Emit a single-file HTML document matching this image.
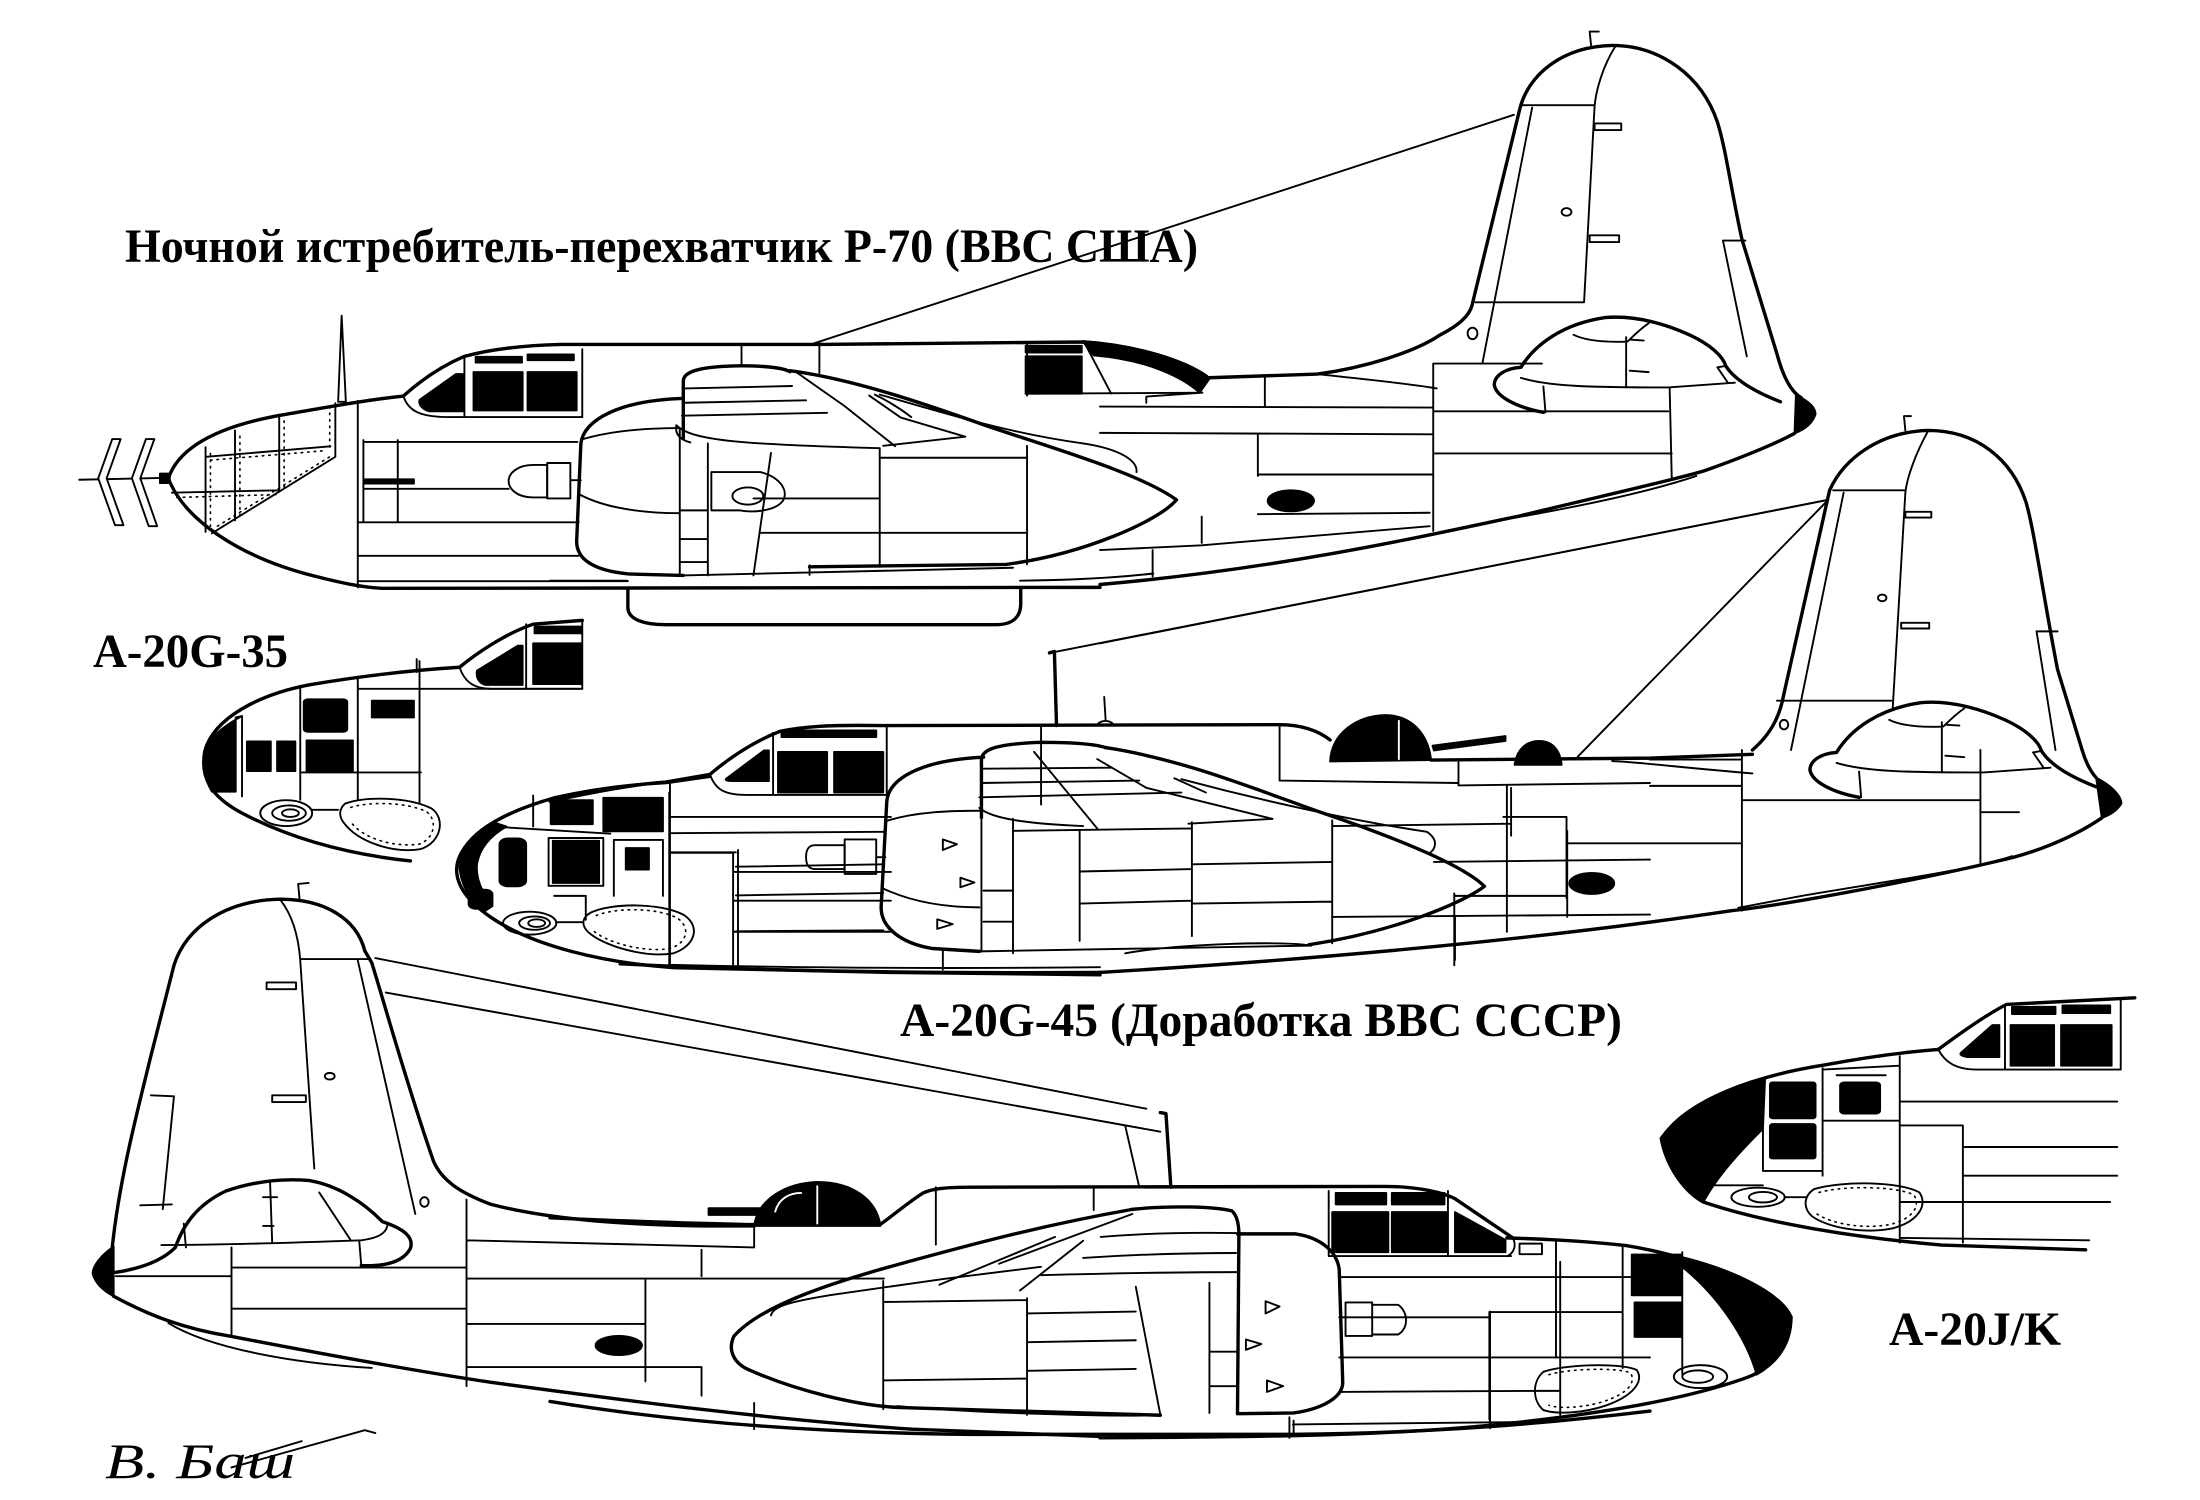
<!DOCTYPE html>
<html><head><meta charset="utf-8">
<style>
html,body{margin:0;padding:0;background:#fff;}
#wrap{position:relative;width:2200px;height:1500px;overflow:hidden;background:#fff;}
svg{position:absolute;left:0;top:0;}
#d path,#d line,#d rect,#d ellipse,#d polygon,#d polyline{vector-effect:non-scaling-stroke;}
#d .o{stroke-width:3.4;}
#d .f{fill:#000;}
#d .w{fill:#fff;}
#d .d{stroke-dasharray:1.5 5;stroke-width:1.6;}
</style></head>
<body><div id="wrap">
<svg id="d" width="2200" height="1500" viewBox="0 0 3136 3136" preserveAspectRatio="none">
<g fill="none" stroke="#000" stroke-width="1.9" stroke-linejoin="round" stroke-linecap="round">

<!-- ===== Q1 region : P-70 front + A-20G-35 ===== -->
<g>
<line x1="113" y1="1003" x2="240" y2="999"/>
<polygon class="w" points="160,918 172,918 152,1000 176,1098 164,1098 140,1000"/>
<polygon class="w" points="208,918 220,918 200,1000 224,1100 212,1100 188,1000"/>
<rect class="f" x="228" y="990" width="14" height="20"/>
<path class="o" d="M240 1000 C255 935 310 892 400 868 C450 856 510 838 575 828"/>
<path class="o" d="M240 1000 C262 1085 340 1165 450 1205 C485 1218 515 1228 545 1230 L1568 1228"/>
<path d="M510 1215 L895 1215"/>
<line x1="510" y1="838" x2="510" y2="1228"/>
<path d="M478 843 L478 955 L302 1115"/>
<path d="M293 935 L293 1112 M335 900 L335 1088 M398 872 L398 1028 M245 1030 L398 1025 M294 955 L471 933"/>
<path class="d" d="M300 948 L300 1100 M342 912 L342 1080 M405 880 L405 1020 M470 850 L470 940 M300 962 L465 942 M252 1040 L395 1034 M310 1100 L470 955"/>
<polygon class="w" points="482,840 487,660 493,840"/>
<path class="o" d="M575 828 C600 795 630 765 662 745 C700 730 745 722 800 720 L1170 720"/>
<path d="M575 828 C582 860 600 872 640 872 L830 872"/>
<path class="f" d="M598 836 L650 782 L660 782 L660 860 L612 860 C602 856 596 846 598 836Z"/>
<rect class="f" x="675" y="778" width="70" height="80"/>
<rect class="f" x="752" y="778" width="70" height="80"/>
<rect class="f" x="678" y="746" width="66" height="12"/>
<rect class="f" x="752" y="741" width="66" height="12"/>
<path d="M662 745 L662 872 M830 730 L830 872 M1057 720 L1057 765 M1168 718 L1168 780"/>
<path d="M518 920 L518 1090 M567 920 L567 1090 M518 924 L823 924 M518 1022 L725 1022 M510 1092 L825 1092 M510 1162 L825 1162"/>
<rect class="f" x="520" y="1002" width="70" height="9"/>
<path d="M780 972 L760 972 C737 972 725 990 725 1006 C725 1022 737 1040 760 1040 L780 1040 Z"/>
<rect x="780" y="968" width="33" height="74"/>
<line x1="813" y1="1004" x2="828" y2="1004"/>
<path class="o" d="M895 1230 L895 1270 C895 1295 918 1306 950 1306 L1420 1306 C1445 1306 1455 1288 1455 1262 L1455 1230"/>
<line x1="1160" y1="718" x2="2158" y2="240"/>

<!-- A-20G-35 -->
<path class="o" d="M655 1395 C680 1365 720 1325 760 1305 L830 1297"/>
<path class="o" d="M655 1395 C600 1400 520 1412 440 1432 C370 1452 305 1500 292 1570 C285 1625 300 1665 345 1700 C410 1750 490 1785 585 1800"/>
<path class="f" d="M345 1497 C315 1520 296 1545 292 1575 C288 1610 294 1635 302 1655 L336 1655 L336 1500 Z"/>
<path d="M345 1497 L345 1665"/>
<path class="f" d="M680 1402 L738 1350 L745 1350 L745 1432 L692 1432 C682 1428 678 1415 680 1402Z"/>
<path d="M655 1395 C662 1425 675 1440 700 1440 L830 1440 M830 1297 L830 1440"/>
<rect class="f" x="760" y="1345" width="68" height="85"/>
<rect class="f" x="762" y="1310" width="66" height="14"/>
<path d="M750 1305 L750 1440"/>
<rect class="f" x="433" y="1462" width="62" height="68" rx="6"/>
<rect class="f" x="530" y="1465" width="60" height="35"/>
<rect class="f" x="352" y="1550" width="34" height="62"/>
<rect class="f" x="395" y="1550" width="26" height="62"/>
<rect class="f" x="437" y="1548" width="66" height="64"/>
<path d="M510 1420 L510 1672 M598 1382 L598 1680 M430 1615 L600 1615 M428 1440 L428 1672 M510 1440 L598 1440 M598 1440 L830 1440"/>
<line x1="594" y1="1378" x2="594" y2="1405"/>
<ellipse cx="408" cy="1700" rx="37" ry="27"/>
<ellipse cx="412" cy="1700" rx="24" ry="16"/>
<ellipse cx="414" cy="1700" rx="12" ry="8"/>
<path d="M492 1680 C520 1665 580 1665 615 1690 C635 1710 630 1760 600 1775 C560 1785 510 1760 490 1720 C482 1705 484 1690 492 1680 Z"/>
<path class="d" d="M500 1688 C525 1676 578 1676 608 1697 C624 1714 620 1754 597 1765 C560 1772 516 1752 500 1718"/>
<line x1="445" y1="1693" x2="482" y2="1693"/>
</g>

<!-- ===== Q2 region : P-70 fin, A-20G-45 fin ===== -->
<g transform="translate(1568,0)">
<path class="o" d="M150 790 L310 782 C380 768 450 735 485 700 C512 680 526 660 530 640 L598 230 C610 155 660 97 730 95 C800 95 858 160 880 255 C892 310 900 400 915 500 L965 740 C975 795 988 822 1000 832"/>
<path class="f" d="M992 826 C1010 838 1020 852 1020 866 C1016 884 1005 898 990 906 Z"/>
<path class="o" d="M990 906 C960 930 905 962 860 985 C800 1010 700 1042 600 1078 C450 1125 250 1190 0 1222"/>
<path d="M850 995 C780 1030 680 1060 570 1088"/>
<path d="M735 96 C716 140 707 190 705 222 L690 632 M600 220 L705 220 M616 225 L545 760 M535 632 L690 632"/>
<path d="M700 95 L698 66 L711 66"/>
<rect x="705" y="258" width="38" height="14"/>
<rect x="698" y="492" width="42" height="14"/>
<ellipse cx="665" cy="443" rx="7" ry="8"/>
<ellipse cx="531" cy="697" rx="7" ry="12"/>
<path d="M888 503 L920 503 M888 503 L922 745"/>
<path d="M310 782 C370 792 430 800 480 812"/>
<path class="o" d="M632 862 C595 852 565 830 562 805 C562 785 578 770 600 768 C620 720 660 677 720 664 C765 658 810 680 840 700 C870 720 888 745 892 765 C905 795 935 820 970 840"/>
<path d="M600 790 C640 808 700 810 810 810 L905 800 M632 808 L635 862 M750 705 L750 810 M675 700 C692 712 720 716 752 714 C762 700 770 688 782 676 M812 810 L815 1000 M880 768 L895 800 M880 768 L892 765"/>
<path d="M755 710 L775 712 M755 775 L782 778"/>
<path d="M475 760 L630 760 M475 860 L810 860 M475 948 L815 948 M475 760 L475 1110 M235 790 L235 850 M0 850 L475 852 M0 905 L475 908 M225 908 L225 995 M225 992 L475 992 M225 1075 L470 1072 M145 1080 L145 1135 M75 1150 L75 1205 M0 1150 L145 1140 L470 1100"/>
<ellipse class="f" cx="272" cy="1047" rx="33" ry="22"/>
<!-- A-20G-45 fin -->
<path class="o" d="M930 1568 C960 1530 970 1490 975 1450 L1040 1025 C1060 960 1110 903 1180 900 C1250 900 1300 960 1320 1050 C1332 1110 1345 1250 1365 1400 L1400 1568"/>
<path d="M1180 902 C1162 950 1150 1000 1148 1030 L1130 1480 M1045 1025 L1147 1025 M1060 1030 L985 1568 M965 1465 L1128 1465 M1335 1320 L1365 1320 M1335 1320 L1362 1568"/>
<path d="M1148 900 L1146 870 L1156 870"/>
<rect x="1148" y="1070" width="37" height="12"/>
<rect x="1142" y="1302" width="40" height="12"/>
<ellipse cx="1115" cy="1250" rx="6" ry="7"/>
<ellipse cx="975" cy="1515" rx="6" ry="10"/>
<path d="M1038 1045 L0 1345"/>
<path d="M1038 1045 L681 1582"/>
<!-- A-20G-45 stabiliser dome (copy of P-70 dome) -->
<g transform="translate(450,805)">
<path class="o" d="M632 862 C595 852 565 830 562 805 C562 785 578 770 600 768 C620 720 660 677 720 664 C765 658 810 680 840 700 C870 720 888 745 892 765 C905 795 935 820 970 840"/>
<path d="M600 790 C640 808 700 810 810 810 L905 800 M632 808 L635 862 M750 705 L750 810 M675 700 C692 712 720 716 752 714 C762 700 770 688 782 676 M880 768 L895 800 M880 768 L892 765"/>
<path d="M755 710 L775 712 M755 775 L782 778"/>
<path d="M480 812 C380 800 330 790 280 786"/>
</g>
</g>

<!-- ===== Z5 region : P-70 mid, A-20G-45 mid ===== -->
<g transform="translate(784,627)">
<path class="o" d="M386 93 L762 88 C840 96 905 128 936 160"/>
<rect class="f" x="678" y="118" width="80" height="78"/>
<rect class="f" x="678" y="96" width="80" height="14"/>
<path class="f" d="M759 86 C840 94 905 128 940 165 L926 194 C900 160 850 125 775 116 Z"/>
<path d="M762 90 L800 196 M678 196 L930 194 L850 202 L850 215 M680 88 L680 200"/>
<!-- P-70 nacelle -->
<path class="o" d="M190 206 C100 210 48 250 44 300 L38 505 C38 542 62 566 112 573 L190 576"/>
<path class="o" d="M190 290 L190 170 C190 150 212 140 262 138 C305 137 332 142 342 150"/>
<path d="M192 185 L345 180 M192 215 L365 210 M188 242 L395 236 M180 262 C200 292 260 302 470 310 M180 262 C178 280 185 292 200 298"/>
<path d="M45 292 C90 272 140 268 185 268 M40 405 C80 438 140 446 185 446"/>
<path class="o" d="M342 148 C430 165 530 215 620 262 C720 312 840 362 893 418 C868 462 760 532 650 553 L370 558"/>
<path d="M470 198 C560 235 650 278 760 300 C815 312 838 338 836 360"/>
<path d="M455 200 L500 246 L592 286 L475 305 M350 150 L420 222 L492 306 M463 198 C480 210 500 228 515 245"/>
<path d="M470 310 L470 558 M680 305 L680 553 M290 415 L470 415 M300 487 L680 487 M470 330 L680 330"/>
<path d="M185 268 L185 576 M225 300 L225 576 M185 440 L225 440 M185 500 L225 500 M185 548 L225 548 M315 320 L290 576"/>
<path d="M230 360 L300 360 C330 372 340 400 332 420 C322 440 292 446 270 440 L230 440 Z"/>
<ellipse cx="282" cy="410" rx="22" ry="18"/>
<path d="M0 587 L110 587 M670 587 C740 586 800 582 860 572"/>
<path d="M370 555 L370 575 M190 576 L660 560"/>

<!-- A-20G-45 -->
<path class="o" d="M712 738 L719 735 L722 890"/>
<path d="M790 830 L792 878 M780 890 C782 878 800 876 804 890"/>
<line x1="716" y1="737" x2="1822" y2="418"/>
<path class="o" d="M0 1048 C60 1030 120 1012 165 1008 L228 992 C255 958 292 922 328 902 C360 892 400 888 470 890 L1040 888 C1070 888 1095 900 1112 920"/>
<path class="f" d="M1112 965 C1114 905 1150 870 1190 868 C1230 868 1252 910 1256 962 Z"/>
<path stroke="#fff" d="M1210 880 L1210 960"/>
<path class="f" d="M1258 932 L1362 912 L1362 922 L1260 942 Z"/>
<path class="f" d="M1375 972 C1378 938 1393 922 1410 922 C1427 922 1440 938 1442 972 Z"/>
<path class="o" d="M1256 962 L1568 958 L1714 950"/>
<path class="f" d="M252 1000 L305 942 L312 942 L312 1006 L262 1006 C252 1006 248 1004 252 1000Z"/>
<rect class="f" x="325" y="945" width="70" height="85"/>
<rect class="f" x="405" y="945" width="70" height="85"/>
<rect class="f" x="330" y="900" width="135" height="14"/>
<path d="M228 992 C236 1025 250 1035 280 1035 L480 1035 M318 905 L318 1035 M480 890 L480 1035 M700 893 L700 1055"/>
<path class="o" d="M615 1082 L615 962 C615 938 640 928 700 925 C740 925 775 928 792 936"/>
<path d="M618 980 L800 978 M615 1010 L840 1005 M612 1040 L900 1030 M612 1062 C630 1085 680 1095 760 1100"/>
<path class="o" d="M618 956 C530 962 482 1000 480 1050 L472 1270 C472 1312 500 1345 545 1356 L612 1362"/>
<path d="M478 1090 C520 1070 570 1068 612 1068 M474 1230 C520 1262 570 1270 612 1270"/>
<path class="o" d="M792 936 C900 960 1000 1020 1100 1072 C1200 1122 1300 1180 1332 1226 C1300 1262 1200 1322 1082 1348"/>
<path d="M900 1002 C1010 1045 1140 1088 1250 1112 C1268 1130 1262 1150 1252 1158"/>
<path d="M690 945 L780 1105 M780 960 L850 1020 L1030 1085 L910 1095 M890 1000 L935 1030"/>
<path d="M615 1070 L615 1362 M660 1085 L660 1366 M755 1110 L755 1340 M915 1092 L915 1330 M1115 1088 L1115 1345 M660 1110 L915 1105 M755 1195 L915 1190 M755 1262 L915 1256 M915 1180 L1115 1175 M915 1262 L1115 1258 M618 1235 L660 1235 M618 1300 L660 1300"/>
<path d="M612 1362 L1082 1350 M820 1366 C900 1345 1050 1340 1085 1350"/>
<path d="M560 1128 L580 1138 L560 1150 Z M585 1208 L605 1218 L585 1228 Z M552 1295 L574 1305 L552 1315 Z"/>
<path d="M378 1140 L420 1140 L420 1190 L378 1190 C368 1190 365 1180 365 1165 C365 1150 368 1140 378 1140 Z"/>
<rect x="420" y="1128" width="45" height="72"/>
<line x1="465" y1="1165" x2="478" y2="1165"/>
<path d="M170 1030 L170 1390 M268 1150 L268 1395 M170 1115 L475 1112 M170 1155 L265 1155 M265 1185 L475 1180 M265 1245 L475 1240 M265 1320 L475 1318 M1040 890 L1040 1005 M1040 1005 L1295 1010 M1295 962 L1295 1015 M1295 1015 L1568 1010 M1115 1100 L1370 1095 M1370 1020 L1370 1120 M1260 1175 L1568 1170 M1450 1110 L1450 1290 M1115 1290 L1568 1285 M560 1360 L560 1400 M1290 1290 L1290 1380"/>
<ellipse class="f" cx="1485" cy="1220" rx="32" ry="22"/>
<path class="o" d="M100 1388 C300 1403 550 1408 784 1406"/>
<path d="M170 1390 C400 1398 600 1398 784 1395"/>
</g>

<!-- ===== Q3 region : A-20G-45 nose, bottom plane tail ===== -->
<g transform="translate(0,1568)">
<path class="o" d="M662 205 C682 160 730 125 790 100 C850 80 900 72 950 68 L1012 55"/>
<path class="o" d="M662 205 C640 250 650 300 700 350 C760 410 860 445 960 455 L1270 465 L1568 470"/>
<path class="f" d="M705 152 C675 178 657 210 655 245 C657 282 668 312 690 338 L702 326 C686 296 678 266 680 238 C684 205 698 180 722 160 Z"/>
<rect class="f" x="785" y="105" width="60" height="50"/>
<rect class="f" x="860" y="100" width="85" height="70"/>
<rect class="f" x="788" y="190" width="66" height="88"/>
<rect x="782" y="184" width="78" height="100"/>
<rect class="f" x="892" y="205" width="33" height="45"/>
<rect class="f" x="712" y="185" width="38" height="100" rx="12"/>
<rect class="f" x="668" y="292" width="34" height="40" rx="10"/>
<path d="M955 68 L955 455 M1045 215 L1045 455 M955 140 L1270 140 M955 215 L1045 215 M1045 255 L1270 255 M1045 315 L1270 315 M1045 380 L1270 380 M875 188 L875 305 M875 188 L945 188 L945 305 M790 305 L835 305 L835 355 M760 95 L760 160 M700 160 L870 175"/>
<ellipse cx="755" cy="362" rx="38" ry="24"/>
<ellipse cx="762" cy="362" rx="22" ry="14"/>
<ellipse cx="765" cy="362" rx="12" ry="8"/>
<path d="M842 340 C870 320 940 318 975 345 C1000 370 990 410 960 425 C920 435 860 410 838 380 C828 365 830 350 842 340Z"/>
<path class="d" d="M850 346 C876 330 936 328 966 352 C986 373 978 405 955 415 C920 424 866 404 846 378"/>
<line x1="795" y1="360" x2="830" y2="360"/>

<!-- bottom plane tail -->
<path class="o" d="M160 1040 C170 900 195 760 215 640 L248 450 C265 372 320 314 400 312 C460 312 508 350 520 420 L530 445 C548 530 580 700 618 860 C630 900 655 925 700 950 C780 980 880 992 1000 995 L1075 995"/>
<path class="f" d="M162 1038 C142 1058 132 1080 132 1095 C136 1115 146 1130 162 1142 Z"/>
<path class="o" d="M162 1142 C210 1180 260 1210 330 1226 C450 1260 600 1300 700 1322 C900 1362 1100 1400 1300 1420 L1568 1435"/>
<path d="M240 1198 C300 1252 420 1282 530 1292"/>
<path d="M400 314 C420 352 426 400 428 440 L448 875 M428 437 L528 437 M510 440 L592 970 M215 722 L248 724 M248 724 L232 960"/>
<rect x="380" y="486" width="42" height="14"/>
<rect x="388" y="722" width="48" height="14"/>
<ellipse cx="470" cy="682" rx="7" ry="7"/>
<ellipse cx="605" cy="945" rx="6" ry="10"/>
<path d="M200 952 L245 950"/>
<path d="M427 312 L425 280 L440 278"/>
<path class="o" d="M165 1092 C210 1082 235 1062 250 1040 C262 990 282 950 322 922 C362 902 400 895 440 900 C482 910 520 948 545 986 C578 1002 590 1020 585 1042 C575 1070 550 1080 515 1078"/>
<path d="M230 1035 C300 1035 420 1030 515 1025 C540 1020 550 1010 552 995 M262 990 L265 1040 M385 905 L388 1030 M455 925 L500 1025 M512 1025 L515 1078 M375 935 L395 935 M375 995 L390 995"/>
<path d="M330 1040 L330 1225 M665 940 L665 1330 M920 1105 L920 1320 M1000 1045 L1000 1100 M330 1082 L665 1082 M165 1100 L330 1100 M330 1168 L665 1168 M665 1200 L920 1200 M665 1290 L1000 1290 M665 1105 L1260 1105 M665 1025 L1075 1040 M1075 995 L1075 1040 M1075 1365 L1075 1420 M1000 1290 L1000 1350"/>
<ellipse class="f" cx="882" cy="1245" rx="33" ry="20"/>
<path class="f" d="M1075 995 C1080 940 1120 905 1165 903 C1215 903 1250 940 1255 995 Z"/>
<path stroke="#fff" d="M1165 912 L1165 990 M1105 965 C1110 938 1125 926 1142 926"/>
<rect class="f" x="1010" y="958" width="90" height="14"/>
<path d="M535 435 L1634 750 M550 507 L1654 798"/>
<path class="o" d="M1654 758 L1662 760 L1669 914"/>
<path d="M1604 786 L1624 914"/>
<path d="M330 1500 L520 1422 L535 1428 M350 1480 L430 1445"/>
</g>

<!-- ===== Z6 region : bottom plane mid ===== -->
<g transform="translate(784,1882) scale(1,0.8)">
<path class="o" d="M0 830 C100 838 200 845 295 848 M470 848 C485 830 510 790 532 765 C545 755 560 750 600 750 L1190 748 C1230 748 1268 760 1290 780 L1372 882"/>
<rect class="f" x="1115" y="815" width="80" height="105"/>
<rect class="f" x="1200" y="815" width="78" height="105"/>
<path class="f" d="M1290 815 L1362 888 L1362 920 L1290 920 Z"/>
<rect class="f" x="1120" y="765" width="72" height="30"/>
<rect class="f" x="1200" y="765" width="75" height="30"/>
<path d="M1110 760 L1110 930 L1370 930 M1280 760 L1280 930 M1372 882 C1378 900 1375 920 1365 930 M550 750 L550 900 M775 750 L775 810"/>
<path class="o" d="M830 808 C880 798 945 800 972 812 C980 825 982 850 982 875 L980 1340"/>
<path d="M785 880 C850 870 920 868 978 870 M760 935 C840 925 920 922 978 922 M700 980 C800 975 900 972 980 972"/>
<path class="o" d="M980 872 L1062 872 C1100 882 1122 920 1125 965 L1130 1260 C1130 1300 1100 1330 1060 1340 L980 1342"/>
<path class="o" d="M830 808 C700 850 600 900 500 950 C400 1000 300 1060 262 1140 C252 1180 265 1212 282 1226 C350 1282 440 1322 500 1326 L870 1346"/>
<path d="M315 1085 C318 1062 340 1050 400 1032 L560 990 L700 958"/>
<path d="M555 1005 L720 880 M640 950 L830 820 M670 1020 L760 890"/>
<path d="M475 995 L475 1330 M680 1040 L680 1345 M835 1010 L870 1345 M940 1000 L940 1340 M475 1050 L680 1045 M680 1080 L835 1075 M680 1155 L835 1150 M475 1255 L680 1250 M680 1230 L835 1225 M940 1180 L980 1180 M940 1270 L980 1270"/>
<path d="M1020 1048 L1040 1062 L1020 1080 Z M992 1148 L1014 1160 L992 1175 Z M1022 1255 L1045 1270 L1022 1285 Z"/>
<path d="M1125 985 L1568 985 M1125 1090 L1340 1090 M1340 1075 L1340 1380 M1440 945 L1440 1345 M1125 1195 L1568 1195 M1125 1285 L1440 1282 M1060 1360 L1060 1395"/>
<path class="o" d="M0 1310 C200 1370 400 1392 600 1396 L1060 1396 C1250 1392 1400 1372 1568 1335"/>
<path d="M495 1322 C600 1340 800 1350 870 1346"/>
</g>

<!-- ===== Q4 region : A-20G-45 tail, bottom plane nose, A-20J/K ===== -->
<g transform="translate(1568,1568)">
<path class="f" d="M1420 58 C1442 74 1456 96 1456 112 C1450 126 1440 136 1428 142 Z"/>
<path class="o" d="M1400 0 C1405 25 1412 45 1420 58"/>
<path class="o" d="M1428 142 C1380 190 1320 220 1280 232 C1200 260 1000 320 900 336 C700 380 400 430 0 465"/>
<path d="M1300 222 C1250 248 1150 268 1000 305 L910 330"/>
<path d="M915 0 L915 336 M1255 0 L1255 240 M915 105 L1255 105 M1255 130 L1310 130 M665 195 L915 195 M575 140 L665 140 M505 305 L665 305 M580 75 L580 380 M665 140 L665 310 M505 300 L505 450 M784 20 L915 20 M784 75 L915 75"/>

<!-- bottom plane nose -->
<path class="o" d="M580 1020 C620 1022 680 1025 750 1036 C850 1060 950 1120 985 1185 C985 1245 962 1290 922 1312 C850 1350 750 1380 600 1405 C450 1430 300 1436 0 1438"/>
<path class="f" d="M805 1052 C905 1082 975 1140 986 1186 C982 1242 962 1285 936 1306 C922 1232 882 1140 825 1075 Z"/>
<rect class="f" x="758" y="1055" width="70" height="85"/>
<rect class="f" x="762" y="1155" width="66" height="72"/>
<rect x="598" y="1032" width="32" height="22"/>
<path d="M745 1040 L745 1292 M830 1050 L830 1305 M650 1028 L650 1270 M555 1175 L745 1175 M555 1175 L555 1400 M270 1395 L270 1438 M275 1410 L600 1405"/>
<path d="M632 1300 C660 1285 740 1280 765 1296 C776 1320 760 1350 722 1370 C690 1386 652 1390 632 1380 C616 1360 616 1320 632 1300 Z"/>
<path class="d" d="M640 1306 C665 1294 735 1290 756 1302 C765 1322 752 1346 718 1362 C690 1375 656 1378 640 1370"/>
<ellipse cx="856" cy="1310" rx="38" ry="24"/>
<ellipse cx="852" cy="1310" rx="22" ry="13"/>
<rect x="350" y="1155" width="38" height="70"/>
<path d="M388 1160 L425 1160 C440 1175 440 1210 425 1222 L388 1222"/>

<!-- A-20J/K -->
<path class="o" d="M1195 626 C1230 588 1265 552 1292 532 L1475 518"/>
<path class="o" d="M1195 626 C1160 630 1100 640 1035 658 C930 682 840 730 800 812 C808 875 835 925 860 945 C950 990 1080 1020 1200 1035 L1405 1045"/>
<path class="f" d="M948 688 C880 710 822 758 800 812 C808 870 836 920 860 945 C875 905 898 860 945 792 Z"/>
<path class="f" d="M1228 632 L1272 575 L1282 575 L1282 642 L1236 642 C1228 640 1224 636 1228 632 Z"/>
<rect class="f" x="1298" y="575" width="62" height="85"/>
<rect class="f" x="1370" y="575" width="72" height="85"/>
<rect class="f" x="1300" y="537" width="62" height="15"/>
<rect class="f" x="1372" y="534" width="68" height="16"/>
<path d="M1195 626 C1205 655 1222 668 1250 668 L1455 668 M1290 535 L1290 668 M1455 520 L1455 668"/>
<rect class="f" x="955" y="695" width="65" height="75" rx="4"/>
<rect class="f" x="955" y="782" width="65" height="72" rx="4"/>
<rect class="f" x="1055" y="695" width="57" height="65" rx="6"/>
<path d="M945 690 L945 880 L1030 880 M1030 665 L1030 890 M1140 640 L1140 1030 M1230 785 L1230 1030 M1030 775 L1140 775 M1030 668 L1140 660 M1140 735 L1450 735 M1140 785 L1230 785 M1230 830 L1450 830 M1230 890 L1450 890 M1140 945 L1440 945 M1140 1020 L1410 1025 M870 910 L945 910 M1050 680 L1120 680"/>
<path d="M1018 918 C1060 900 1140 902 1168 925 C1180 950 1168 985 1130 1000 C1090 1012 1040 1000 1015 975 C1000 955 1005 930 1018 918 Z"/>
<path class="d" d="M1025 925 C1062 910 1135 912 1160 930 C1170 952 1160 980 1126 992 C1090 1002 1045 992 1022 970"/>
<ellipse cx="938" cy="935" rx="38" ry="20"/>
<ellipse cx="945" cy="935" rx="20" ry="11"/>
<line x1="976" y1="935" x2="1006" y2="935"/>
</g>
</g>
</svg>

<svg width="2200" height="1500" viewBox="0 0 2200 1500">
<g font-family="'Liberation Serif', 'DejaVu Serif', serif" font-weight="bold" fill="#000">
<text x="125" y="262" font-size="48" textLength="1073" lengthAdjust="spacingAndGlyphs">Ночной истребитель-перехватчик Р-70  (ВВС США)</text>
<text x="93" y="667" font-size="48" textLength="195" lengthAdjust="spacingAndGlyphs">A-20G-35</text>
<text x="900" y="1036" font-size="48" textLength="722" lengthAdjust="spacingAndGlyphs">A-20G-45  (Доработка ВВС СССР)</text>
<text x="1889" y="1345" font-size="48" textLength="172" lengthAdjust="spacingAndGlyphs">A-20J/K</text>
</g>
<text x="105" y="1478" font-family="'Liberation Serif', serif" font-style="italic" font-size="50" textLength="190" lengthAdjust="spacingAndGlyphs" fill="#000">В. Баш</text>
</svg>
</div></body></html>
